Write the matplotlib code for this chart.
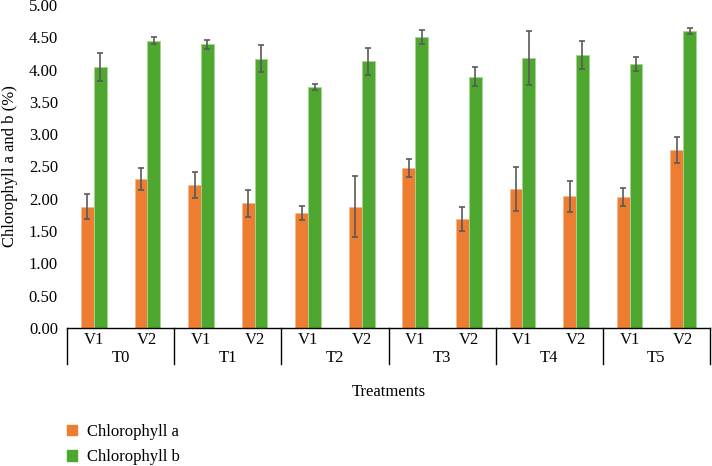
import matplotlib
matplotlib.use("Agg")
import matplotlib.pyplot as plt
import matplotlib.transforms as mtransforms
from matplotlib.patches import Patch
import numpy as np

plt.rcParams['font.family'] = ['Liberation Serif', 'DejaVu Serif']

treatments = ["T0", "T1", "T2", "T3", "T4", "T5"]
varieties = ["V1", "V2"]
chl_a = [1.88, 2.31, 2.21, 1.93, 1.78, 1.88, 2.47, 1.69, 2.15, 2.04, 2.03, 2.75]
chl_a_err = [0.19, 0.17, 0.20, 0.21, 0.11, 0.47, 0.14, 0.19, 0.34, 0.24, 0.14, 0.20]
chl_b = [4.04, 4.45, 4.39, 4.17, 3.73, 4.13, 4.51, 3.89, 4.18, 4.23, 4.09, 4.60]
chl_b_err = [0.21, 0.06, 0.07, 0.21, 0.05, 0.21, 0.11, 0.15, 0.42, 0.22, 0.11, 0.05]
yticks = [0.0, 0.5, 1.0, 1.5, 2.0, 2.5, 3.0, 3.5, 4.0, 4.5, 5.0]

FS = 12
W, H = 712, 466
fig = plt.figure(figsize=(W / 100, H / 100), dpi=100)
ax = fig.add_axes([67 / W, (H - 328) / H, (710 - 67) / W, 323 / H])

orange = "#ED7D31"
green = "#4EA72E"
n = len(chl_a)
x = np.arange(n) + 0.5
bw = 0.24
ax.bar(x - bw / 2, chl_a, bw, color=orange, edgecolor="#F5B990", linewidth=0.6, zorder=2)
ax.bar(x + bw / 2, chl_b, bw, color=green, edgecolor="#A6D58F", linewidth=0.6, zorder=2)
ax.errorbar(x - bw / 2, chl_a, yerr=chl_a_err, fmt="none", ecolor="#5a5a5a",
            elinewidth=1.2, capsize=2, capthick=1.2, zorder=3)
ax.errorbar(x + bw / 2, chl_b, yerr=chl_b_err, fmt="none", ecolor="#5a5a5a",
            elinewidth=1.2, capsize=2, capthick=1.2, zorder=3)

ax.set_xlim(0, n)
ax.set_ylim(0, 5)
ax.set_yticks(yticks)
ax.set_yticklabels([f"{v:.2f}" for v in yticks], fontsize=FS)
ax.tick_params(axis="y", length=0, pad=6.5)
ax.set_xticks(x)
ax.set_xticklabels(varieties * len(treatments), fontsize=FS)
ax.tick_params(axis="x", length=0, pad=3)

for s in ["top", "right", "left"]:
    ax.spines[s].set_visible(False)
ax.spines["bottom"].set_color("#000000")
ax.spines["bottom"].set_linewidth(1.0)

trans = mtransforms.blended_transform_factory(ax.transData, ax.transAxes)
for k in range(len(treatments) + 1):
    ax.plot([2 * k, 2 * k], [0, -36 / 323], color="black", lw=1.0,
            transform=trans, clip_on=False)
for k, t in enumerate(treatments):
    ax.text(2 * k + 1, -30 / 323, t, transform=trans, ha="center", va="center", fontsize=FS)

ax.set_ylabel("Chlorophyll a and b (%)", fontsize=FS)
ax.yaxis.set_label_coords(-49 / 643, 0.5)

fig.text(389 / W, 1 - 392 / H, "Treatments", ha="center", va="center", fontsize=FS)

handles = [Patch(facecolor=orange, edgecolor=orange), Patch(facecolor=green, edgecolor=green)]
fig.legend(handles, ["Chlorophyll a", "Chlorophyll b"], loc="upper left",
           bbox_to_anchor=(67 / W, 1 - 424 / H), borderaxespad=0, borderpad=0,
           frameon=False, fontsize=FS,
           handlelength=0.6, handleheight=0.6, handletextpad=0.6, labelspacing=0.55)

fig.savefig("out.png", dpi=100)
